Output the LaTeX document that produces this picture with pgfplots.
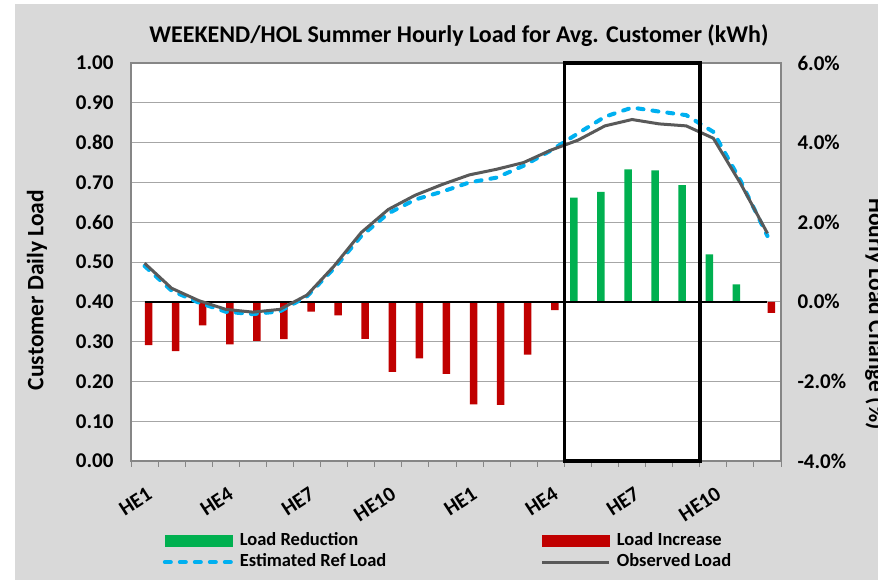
\documentclass[border=0pt]{standalone}
\usepackage{fontspec}
\setmainfont{Carlito}
\usepackage{pgfplots}
\usepackage{pgfplotstable}
\pgfplotsset{compat=1.18}

\definecolor{bggray}{HTML}{D9D9D9}
\definecolor{axgray}{HTML}{868686}
\definecolor{gridgray}{HTML}{A6A6A6}
\definecolor{redbar}{HTML}{C00000}
\definecolor{greenbar}{HTML}{00B050}
\definecolor{estblue}{HTML}{00B0F0}
\definecolor{obsgray}{HTML}{595959}

% hourly load (kWh), left axis
\pgfplotstableread{
hour est obs
1  0.490 0.497
2  0.428 0.434
3  0.398 0.403
4  0.375 0.381
5  0.369 0.374
6  0.376 0.381
7  0.414 0.417
8  0.484 0.490
9  0.565 0.574
10 0.622 0.632
11 0.657 0.668
12 0.677 0.695
13 0.700 0.719
14 0.712 0.733
15 0.742 0.750
16 0.780 0.781
17 0.823 0.806
18 0.865 0.842
19 0.888 0.858
20 0.878 0.847
21 0.869 0.842
22 0.827 0.811
23 0.705 0.698
24 0.565 0.572
}\loadtable

% hourly load change (%), right axis
\pgfplotstableread{
hour chg
17 2.62
18 2.76
19 3.33
20 3.30
21 2.93
22 1.19
23 0.44
}\reduction

\pgfplotstableread{
hour chg
1  -1.09
2  -1.24
3  -0.59
4  -1.07
5  -0.98
6  -0.94
7  -0.25
8  -0.34
9  -0.93
10 -1.76
11 -1.42
12 -1.81
13 -2.58
14 -2.59
15 -1.33
16 -0.21
24 -0.28
}\increase

\newcommand{\tickfont}{\fontsize{21bp}{25bp}\selectfont\bfseries}

\begin{document}
\begin{tikzpicture}
\clip (0,0) rectangle (878bp,580bp);
\fill[white] (0,0) rectangle (878bp,580bp);
\fill[bggray] (15bp,0) rectangle (878bp,576bp);

\pgfplotsset{
  base/.style={
    at={(131bp,119bp)}, anchor=south west,
    width=650bp, height=398bp, scale only axis,
    xmin=0.5, xmax=24.5,
  }
}

% left axis, frame, grid, x ticks
\begin{axis}[
  base,
  ymin=0, ymax=1,
  axis background/.style={fill=white},
  axis line style={axgray, line width=1.2bp},
  ytick={0,0.1,0.2,0.3,0.4,0.5,0.6,0.7,0.8,0.9,1},
  yticklabels={0.00,0.10,0.20,0.30,0.40,0.50,0.60,0.70,0.80,0.90,1.00},
  ymajorgrids, grid style={gridgray, line width=0.9bp},
  ytick pos=left, xtick pos=bottom,
  tick align=outside,
  major tick length=0bp, minor tick length=6bp,
  xtick={1,4,7,10,13,16,19,22},
  xticklabels={HE1,HE4,HE7,HE10,HE1,HE4,HE7,HE10},
  minor xtick={0.5,1.5,...,24.5},
  minor tick style={axgray, line width=1bp},
  tick label style={font=\tickfont},
  yticklabel style={xshift=-14bp},
  xticklabel style={inner sep=0pt, anchor=north east, xshift=1.5bp, yshift=-25bp, rotate=33},
]
\end{axis}

% right axis, bars
\begin{axis}[
  base,
  ymin=-4, ymax=6,
  axis x line=none, axis y line*=right,
  y axis line style={draw=none},
  ytick={-4,-2,0,2,4,6},
  yticklabels={-4.0\%,-2.0\%,0.0\%,2.0\%,4.0\%,6.0\%},
  ytick style={draw=none},
  tick label style={font=\tickfont},
  yticklabel style={xshift=13bp},
  ybar=0.5bp, bar width=7.5bp,
  clip=false,
]
\addplot[fill=greenbar, draw=none] table[x=hour, y=chg] {\reduction};
\addplot[fill=redbar, draw=none] table[x=hour, y=chg] {\increase};
\draw[black, line width=2bp] (axis cs:1,0) -- (axis cs:24,0);
\end{axis}

% lines, box, legend
\begin{axis}[
  base,
  ymin=0, ymax=1,
  hide axis, clip=false,
  legend columns=2,
  legend cell align=left,
  legend image code/.code={\draw[#1] (0bp,0bp) -- (67bp,0bp);},
  legend style={
    at={(axis description cs:0.049,-0.175)}, anchor=north west,
    draw=none, fill=none, inner sep=0pt, outer sep=0pt,
    font=\fontsize{18.5bp}{22bp}\selectfont\bfseries,
    nodes={inner ysep=1bp, inner xsep=6bp, text height=14bp, text depth=5bp},
  },
]
\addlegendimage{legend image code/.code={\fill[greenbar] (0bp,-5.5bp) rectangle (67bp,5.5bp);}}
\addlegendimage{legend image code/.code={\fill[redbar] (0bp,-5.5bp) rectangle (67bp,5.5bp);}}
\addplot[estblue, line width=4bp, line cap=round, dash pattern=on 6bp off 9bp] table[x=hour, y=est] {\loadtable};
\addplot[obsgray, line width=3bp] table[x=hour, y=obs] {\loadtable};
\draw[black, line width=3.5bp] (axis cs:16.5,0) rectangle (axis cs:21.5,1);
\legend{\makebox[295bp][l]{Load Reduction}, Load Increase, Estimated Ref Load, Observed Load}
\end{axis}

\node[font=\fontsize{24bp}{28bp}\selectfont\bfseries] at (459bp,544bp)
  {WEEKEND/HOL Summer Hourly Load for Avg. Customer (kWh)};
\node[rotate=90, font=\fontsize{23.5bp}{28bp}\selectfont\bfseries] at (37bp,290bp)
  {Customer Daily Load};
\node[rotate=-90, anchor=base, font=\fontsize{23.5bp}{28bp}\selectfont\bfseries] at (869bp,266bp)
  {Hourly Load Change (\%)};
\end{tikzpicture}
\end{document}
